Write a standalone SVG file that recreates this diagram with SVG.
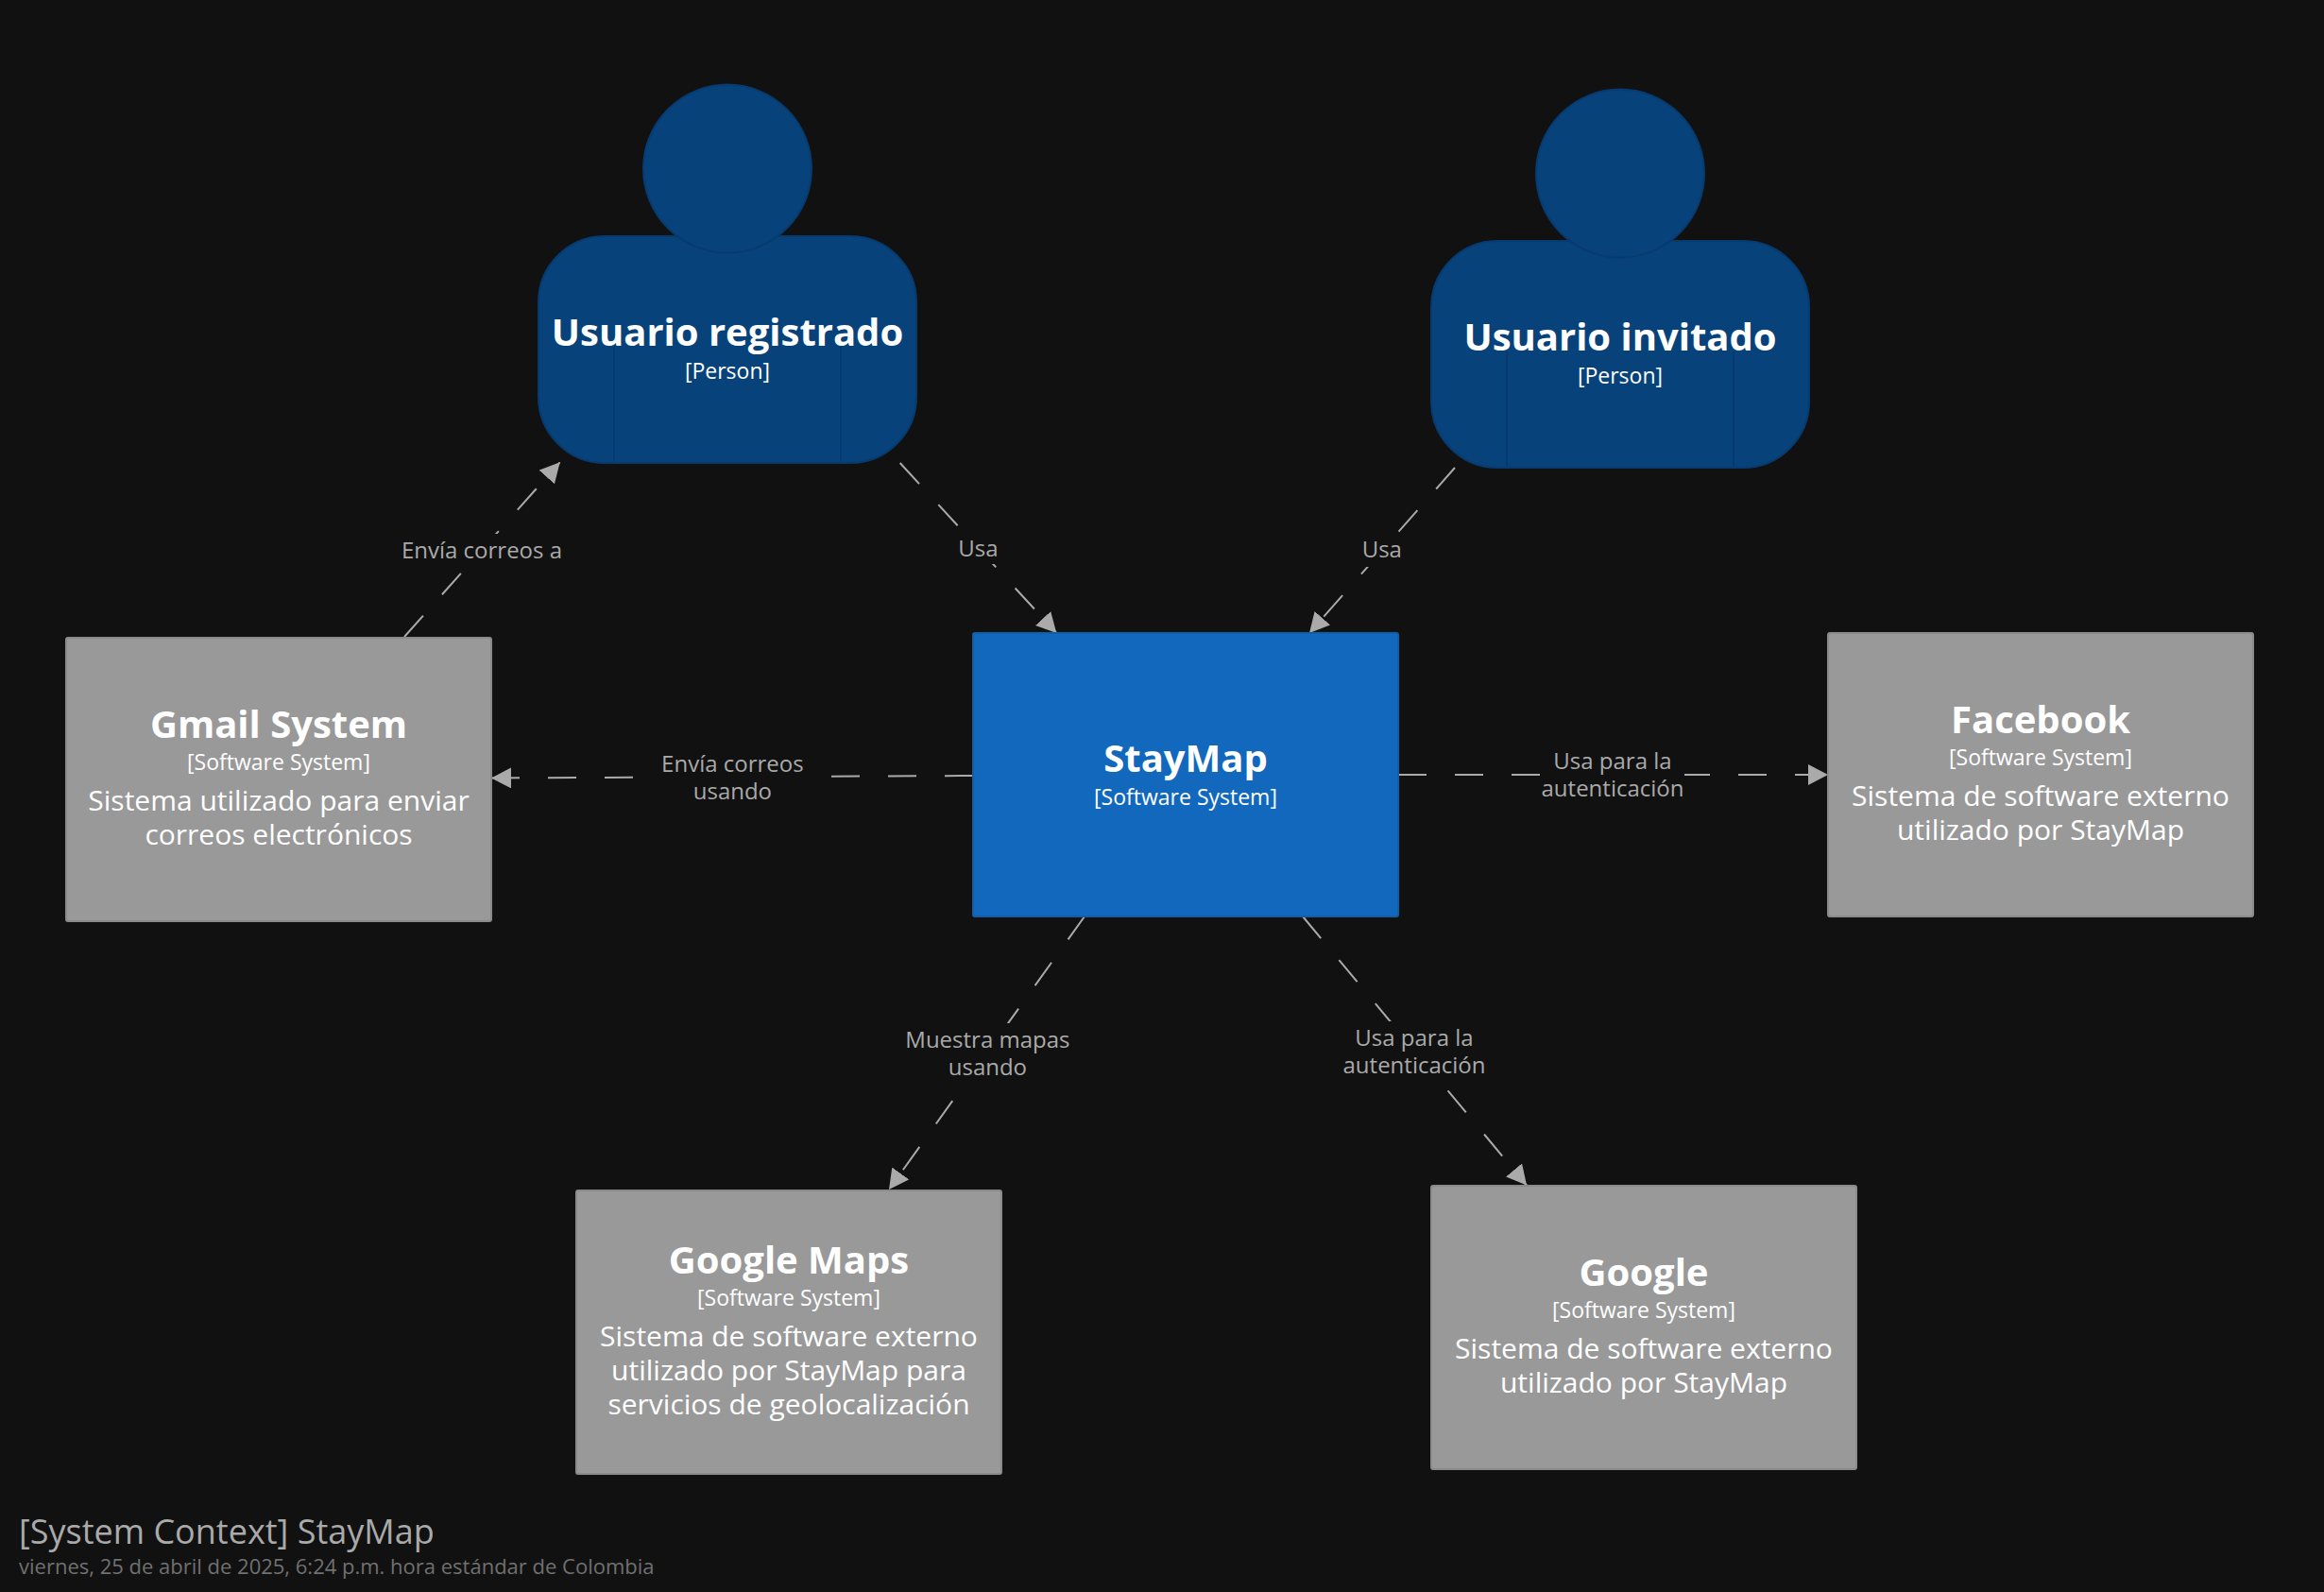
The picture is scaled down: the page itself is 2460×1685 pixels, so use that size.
<svg xmlns="http://www.w3.org/2000/svg" width="2460" height="1685" viewBox="0 0 2460 1685">
<style>
text{font-family:"Open Sans","Noto Sans","Liberation Sans",sans-serif;text-anchor:middle}
.n{font-size:40px;font-weight:700;fill:#fff}
.m{font-size:23px;fill:#fff}
.d{font-size:30px;fill:#fff}
.l{font-size:24px;fill:#aaa}
.e{fill:none;stroke:#aaa;stroke-width:2;stroke-dasharray:30 30;marker-end:url(#arrow)}
.lb{fill:#111}
.sys{fill:#999;stroke:#8a8a8a;stroke-width:2}
.main{fill:#1168bd;stroke:#0f5eaa;stroke-width:2}
.per{fill:#08427b;stroke:#073b6f;stroke-width:2}
.per-l{fill:none;stroke:#073b6f;stroke-width:2}
</style>
<defs>
<marker id="arrow" markerUnits="userSpaceOnUse" markerWidth="22" markerHeight="22" refX="21" refY="11" orient="auto"><path d="M0,0 L21,11 L0,22 Z" fill="#aaa"/></marker>
</defs>
<rect width="2460" height="1685" fill="#111"/>
<g id="connectors">
<path class="e" d="M428,674 L592.7,489.3"/>
<path class="e" d="M952.7,490 L1118.3,670"/>
<path class="e" d="M1540,495 L1386,670"/>
<path class="e" d="M1030,821 L520,823.5"/>
<path class="e" d="M1480,820 L1935,820"/>
<path class="e" d="M1148,970 L941,1259"/>
<path class="e" d="M1379,970 L1616,1254.5"/>
<rect class="lb" x="426" y="565" width="168" height="35"/>
<text class="l" x="510" y="590.7">Envía correos a</text>
<rect class="lb" x="1015" y="563" width="41" height="34"/>
<text class="l" x="1035.5" y="589">Usa</text>
<rect class="lb" x="1442" y="565" width="42" height="35"/>
<text class="l" x="1462.8" y="590.3">Usa</text>
<rect class="lb" x="698" y="791" width="154" height="63"/>
<text class="l" x="775.4" y="816.7">Envía correos</text>
<text class="l" x="775.4" y="845.7">usando</text>
<rect class="lb" x="1632" y="788" width="151" height="63"/>
<text class="l" x="1707" y="814">Usa para la</text>
<text class="l" x="1707" y="843">autenticación</text>
<rect class="lb" x="958.6" y="1083" width="173.5" height="62.5"/>
<text class="l" x="1045.4" y="1108.7">Muestra mapas</text>
<text class="l" x="1045.4" y="1137.7">usando</text>
<rect class="lb" x="1422" y="1081" width="150" height="62.5"/>
<text class="l" x="1497" y="1107">Usa para la</text>
<text class="l" x="1497" y="1136">autenticación</text>
</g>
<g id="usuario-registrado">
<rect class="per" x="570" y="250" width="400" height="240" rx="70"/>
<circle class="per" cx="770" cy="178.6" r="89"/>
<path class="per-l" d="M650,367V490M890,367V490"/>
<text class="n" x="770" y="366">Usuario registrado</text>
<text class="m" x="770" y="400.7">[Person]</text>
</g>
<g id="usuario-invitado">
<rect class="per" x="1515" y="255" width="400" height="240" rx="70"/>
<circle class="per" cx="1715" cy="183.6" r="89"/>
<path class="per-l" d="M1595,372V495M1835,372V495"/>
<text class="n" x="1715" y="371">Usuario invitado</text>
<text class="m" x="1715" y="405.7">[Person]</text>
</g>
<g id="gmail-system">
<rect class="sys" x="70" y="675" width="450" height="300" rx="2"/>
<text class="n" x="295" y="780.7">Gmail System</text>
<text class="m" x="295" y="815">[Software System]</text>
<text class="d" x="295" y="858">Sistema utilizado para enviar</text>
<text class="d" x="295" y="894">correos electrónicos</text>
</g>
<g id="staymap">
<rect class="main" x="1030" y="670" width="450" height="300" rx="2"/>
<text class="n" x="1255" y="816.7">StayMap</text>
<text class="m" x="1255" y="851.7">[Software System]</text>
</g>
<g id="facebook">
<rect class="sys" x="1935" y="670" width="450" height="300" rx="2"/>
<text class="n" x="2160" y="775.7">Facebook</text>
<text class="m" x="2160" y="810">[Software System]</text>
<text class="d" x="2160" y="853">Sistema de software externo</text>
<text class="d" x="2160" y="889">utilizado por StayMap</text>
</g>
<g id="google-maps">
<rect class="sys" x="610" y="1260" width="450" height="300" rx="2"/>
<text class="n" x="835" y="1347.7">Google Maps</text>
<text class="m" x="835" y="1382">[Software System]</text>
<text class="d" x="835" y="1425">Sistema de software externo</text>
<text class="d" x="835" y="1461">utilizado por StayMap para</text>
<text class="d" x="835" y="1497">servicios de geolocalización</text>
</g>
<g id="google">
<rect class="sys" x="1515" y="1255" width="450" height="300" rx="2"/>
<text class="n" x="1740" y="1360.7">Google</text>
<text class="m" x="1740" y="1395">[Software System]</text>
<text class="d" x="1740" y="1438">Sistema de software externo</text>
<text class="d" x="1740" y="1474">utilizado por StayMap</text>
</g>
<g id="title">
<text x="20" y="1634" style="font-size:36px;fill:#aaa;text-anchor:start">[System Context] StayMap</text>
<text x="20" y="1666" style="font-size:22px;fill:#707070;text-anchor:start">viernes, 25 de abril de 2025, 6:24 p.m. hora estándar de Colombia</text>
</g>
</svg>
